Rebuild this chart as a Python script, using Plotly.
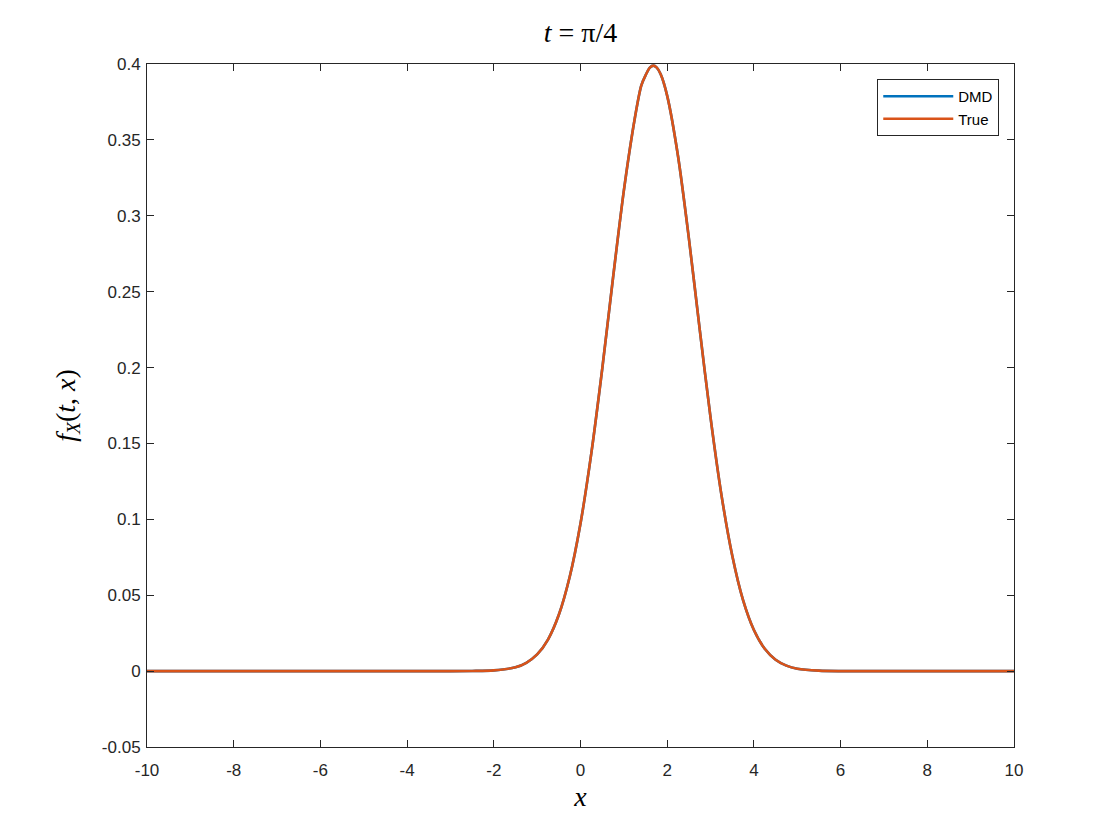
import plotly.graph_objects as go

x_vals = [-10, -6, -3, -2.5, -2, -1.5, -1.25, -1, -0.75, -0.5, -0.25, 0, 0.25, 0.5,
          0.75, 1, 1.25, 1.4, 1.5, 1.6, 1.68, 1.76, 1.85, 2, 2.25, 2.5, 2.75, 3, 3.25, 3.5, 3.75,
          4, 4.25, 4.5, 4.75, 5, 5.5, 6, 7, 10]
dmd_y = [0, 0, 0, 0.0001, 0.0005, 0.0025, 0.0055, 0.011, 0.0208, 0.0371, 0.062,
         0.0973, 0.1436, 0.1989, 0.259, 0.3166, 0.3638, 0.3856, 0.3925, 0.3976, 0.3989, 0.3976,
         0.3932, 0.379, 0.3392, 0.2851, 0.2252, 0.167, 0.1163, 0.0762, 0.0468, 0.0271,
         0.0147, 0.0075, 0.0036, 0.0016, 0.0003, 0, 0, 0]
true_y = [0, 0, 0, 0.0001, 0.0005, 0.0025, 0.0055, 0.011, 0.0208, 0.0371, 0.062,
          0.0973, 0.1436, 0.1989, 0.259, 0.3166, 0.3638, 0.3856, 0.3925, 0.3976, 0.3989, 0.3976,
          0.3932, 0.379, 0.3392, 0.2851, 0.2252, 0.167, 0.1163, 0.0762, 0.0468, 0.0271,
          0.0147, 0.0075, 0.0036, 0.0016, 0.0003, 0, 0, 0]
x_ticks = [-10, -8, -6, -4, -2, 0, 2, 4, 6, 8, 10]
x_tick_text = ["-10", "-8", "-6", "-4", "-2", "0", "2", "4", "6", "8", "10"]
y_ticks = [-0.05, 0, 0.05, 0.1, 0.15, 0.2, 0.25, 0.3, 0.35, 0.4]
y_tick_text = ["-0.05", "0", "0.05", "0.1", "0.15", "0.2", "0.25", "0.3", "0.35", "0.4"]

fig = go.Figure()
fig.add_trace(go.Scatter(x=x_vals, y=dmd_y, mode="lines", name="DMD",
                         line=dict(color="#0072BD", width=2.6, shape="spline", smoothing=0.8)))
fig.add_trace(go.Scatter(x=x_vals, y=true_y, mode="lines", name="True",
                         line=dict(color="#D95319", width=2.6, shape="spline", smoothing=0.8)))

axis_common = dict(showgrid=False, zeroline=False, showline=True, linecolor="#262626",
                   linewidth=1, mirror="ticks", ticks="inside", ticklen=7,
                   tickcolor="#262626", tickfont=dict(family="Liberation Sans", size=17, color="#262626"))

fig.update_layout(
    width=1120, height=840,
    paper_bgcolor="white", plot_bgcolor="white",
    margin=dict(l=139, r=114, t=56, b=101),
    title=dict(text="<i>t</i> = π/4", xref="paper", x=0.5, xanchor="center", y=0.971, yanchor="middle",
               font=dict(family="Liberation Serif", size=28, color="#000000")),
    xaxis=dict(range=[-10, 10], tickvals=x_ticks, ticktext=x_tick_text, ticklabelstandoff=8,
               title=dict(text="<i>x</i>", font=dict(family="Liberation Serif", size=28, color="#000000"),
                          standoff=6),
               **axis_common),
    yaxis=dict(range=[-0.05, 0.4], tickvals=y_ticks, ticktext=y_tick_text, ticklabelstandoff=2,
               title=dict(text="<i>f</i><sub><i>X</i></sub>(<i>t</i>, <i>x</i>)",
                          font=dict(family="Liberation Serif", size=28, color="#000000"), standoff=18),
               **axis_common),
    legend=dict(x=0.983, y=0.978, xanchor="right", yanchor="top",
                bgcolor="white", bordercolor="#262626", borderwidth=1,
                font=dict(family="Liberation Sans", size=15, color="#000000"),
                tracegroupgap=0, itemwidth=70),
    showlegend=True,
)

fig.write_html("out.html")
